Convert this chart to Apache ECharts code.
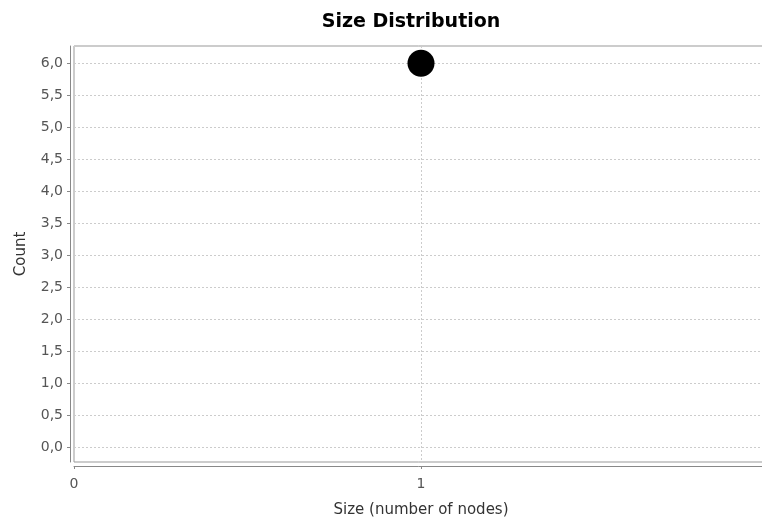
<!DOCTYPE html>
<html><head><meta charset="utf-8">
<script src="https://cdn.jsdelivr.net/npm/echarts@6/dist/echarts.min.js"></script>
<style>html,body{margin:0;padding:0;background:#fff}#c{width:762px;height:517px}</style>
</head><body><div id="c"></div>
<script>
const xValues = [1];
const yValues = [6];
const yTicks = [0, 0.5, 1, 1.5, 2, 2.5, 3, 3.5, 4, 4.5, 5, 5.5, 6];
const xTicks = [0, 1, 2];
const titleText = 'Size Distribution';
const xName = 'Size (number of nodes)';
const yName = 'Count';

const chart = echarts.init(document.getElementById('c'), null, {renderer: 'canvas'});
const font = 'Tahoma, "DejaVu Sans", sans-serif';
chart.setOption({
  animation: false,
  backgroundColor: '#fff',
  title: {text: titleText, left: 406, top: 8, textAlign: 'center',
    textStyle: {fontFamily: font, fontSize: 19, fontWeight: 'bold', color: '#000'}},
  grid: {left: 74, top: 46, width: 694, bottom: 55, show: true, borderColor: '#999', borderWidth: 1,
    backgroundColor: '#fff', outerBoundsMode: 'none', containLabel: false},
  xAxis: {
    type: 'value', min: 0, max: 2, interval: 1, offset: 4,
    name: xName, nameLocation: 'middle', nameGap: 37,
    nameTextStyle: {fontFamily: font, fontSize: 15, color: '#333'},
    axisLine: {show: true, onZero: false, lineStyle: {color: '#888', width: 1}},
    axisTick: {show: true, length: 3, inside: false, lineStyle: {color: '#888'}, customValues: xTicks},
    axisLabel: {fontFamily: font, fontSize: 14, color: '#555', margin: 11, customValues: xTicks},
    splitLine: {show: true, lineStyle: {color: '#ccc', type: [2, 2]}}
  },
  yAxis: {
    type: 'value', min: -0.235, max: 6.27, offset: 4,
    name: yName, nameLocation: 'middle', nameGap: 41, nameRotate: 90,
    nameTextStyle: {fontFamily: font, fontSize: 15, color: '#333'},
    axisLine: {show: true, onZero: false, lineStyle: {color: '#888', width: 1}},
    axisTick: {show: true, length: 3, lineStyle: {color: '#888'}, customValues: yTicks},
    axisLabel: {fontFamily: font, fontSize: 14, color: '#555', margin: 7, customValues: yTicks,
      formatter: v => v.toFixed(1).replace('.', ',')},
    splitLine: {show: true, lineStyle: {color: '#ccc', type: [2, 2]}}
  },
  series: [{
    type: 'scatter', symbol: 'circle', symbolSize: 27,
    itemStyle: {color: '#000', opacity: 1},
    data: xValues.map((x, i) => [x, yValues[i]])
  }]
});
</script></body></html>
